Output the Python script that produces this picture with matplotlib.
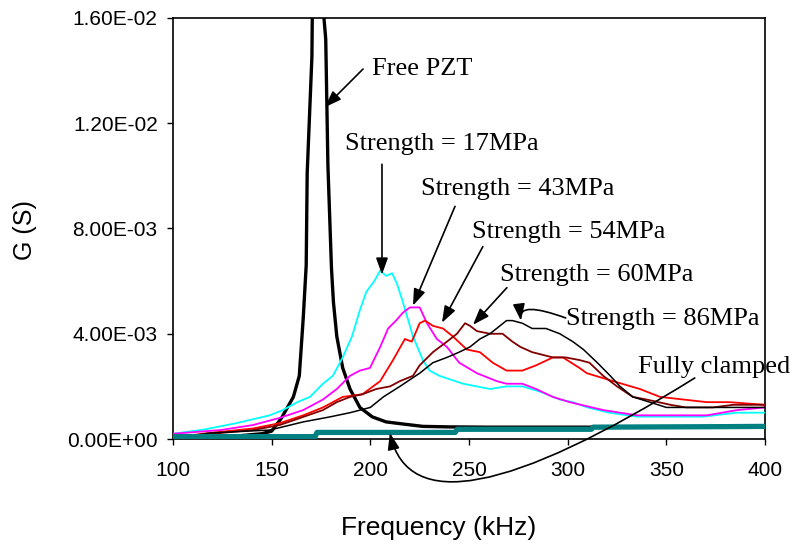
import matplotlib
matplotlib.use("Agg")
import matplotlib.pyplot as plt
from matplotlib.ticker import FuncFormatter

# === DATA (frequency in kHz, conductance G in S) ===
free_f = [100, 130, 145, 150, 155, 161, 164, 166, 167.5, 168, 170.4, 173.5,
          176.5, 177.4, 178.5, 180.3, 181.3, 183, 186, 189.7, 194.7, 201,
          208, 216.5, 226.6, 240, 260, 300, 350, 400]
free_G = [0.00005, 0.0001, 0.0002, 0.0003, 0.0008, 0.0016, 0.0024, 0.0046, 0.0066,
          0.0101, 0.01455, 0.04, 0.016, 0.0152, 0.0104, 0.0065,
          0.0052, 0.0039, 0.0027, 0.0019, 0.0012, 0.00084, 0.00065, 0.00057,
          0.00048, 0.00046, 0.00045, 0.00045, 0.00045, 0.00045]

s17_f = [100, 115, 132, 149, 155.7, 163, 169.4, 176, 181, 186, 190.7, 194.7, 198,
         202, 205, 208, 211, 213.5, 216.5, 221.6, 226.6, 230, 235, 247, 260.6, 269,
         277, 286, 296, 302.6, 310, 321, 335, 350, 368.5, 385.7, 400]
s17_G = [0.0002, 0.00035, 0.0006, 0.0009, 0.0011, 0.0014, 0.0016, 0.0021, 0.0024,
         0.0031, 0.0039, 0.0049, 0.0056, 0.0060, 0.0064, 0.0062, 0.0063, 0.0059,
         0.0052, 0.0039, 0.0030, 0.0026, 0.0024, 0.0021, 0.0019, 0.0020, 0.0020,
         0.0018, 0.0015, 0.0014, 0.0012, 0.0010, 0.00085, 0.00085, 0.00085, 0.0010,
         0.0010]

s43_f = [100, 124, 140.5, 154, 166, 176, 183, 189.7, 194.7, 199.8, 205, 209, 213,
         216.5, 220, 225, 228.7, 233.7, 238.8, 245, 254, 264, 269, 277, 284, 292.5,
         301, 318, 335, 370.5, 386, 400]
s43_G = [0.0002, 0.00034, 0.00053, 0.0008, 0.0011, 0.0015, 0.0019, 0.0024, 0.0026,
         0.0027, 0.0035, 0.0042, 0.0045, 0.0048, 0.0050, 0.0050, 0.0044, 0.0038,
         0.0035, 0.0029, 0.0025, 0.0022, 0.0021, 0.0021, 0.0019, 0.0016, 0.0014,
         0.0011, 0.0009, 0.0009, 0.0011, 0.0012]

s54_f = [100, 115, 140.5, 154, 166, 176, 186, 196, 205, 211.5, 217.5, 221, 225,
         227.7, 231.7, 236.8, 241.8, 248.9, 255.5, 262, 269, 277, 284, 292.5, 297.6,
         306, 309.7, 323, 336.6, 346.8, 370.5, 382, 400]
s54_G = [0.00005, 0.0002, 0.0004, 0.0006, 0.0009, 0.0012, 0.0016, 0.0017, 0.0022,
         0.0030, 0.0038, 0.0037, 0.0044, 0.0045, 0.0043, 0.0042, 0.0039, 0.0034,
         0.0033, 0.0029, 0.0026, 0.0026, 0.0028, 0.0031, 0.0031, 0.0027, 0.0025,
         0.0022, 0.0019, 0.0016, 0.0014, 0.0014, 0.0013]

s60_f = [100, 120, 140.5, 154, 166, 176, 183, 189.7, 196, 203, 210, 215, 221.6, 225,
         231.7, 238.8, 243.9, 248, 250.5, 254, 260.6, 267, 272, 276, 282, 292.5,
         299, 306, 311, 318, 325, 333, 340, 352, 360, 373.6, 384, 400]
s60_G = [0.00003, 0.0002, 0.00034, 0.00053, 0.00084, 0.0011, 0.0014, 0.0016, 0.0017,
         0.0019, 0.0020, 0.0022, 0.0024, 0.0028, 0.0033, 0.0037, 0.0040, 0.0044,
         0.0043, 0.0041, 0.0040, 0.0040, 0.0037, 0.0035, 0.0033, 0.0031, 0.0031,
         0.0030, 0.0029, 0.0024, 0.0020, 0.0016, 0.0015, 0.0013, 0.0012, 0.0012,
         0.0013, 0.0013]

s86_f = [100, 119, 149, 166, 179.5, 189.7, 200, 206.6, 215, 225, 231.7, 238.8, 245,
         250.5, 255.5, 260.6, 264, 269, 272, 277, 282, 289, 296, 302.6, 308, 315,
         321.6, 326.5, 333, 341.6, 350, 360, 377, 400]
s86_G = [0.00003, 0.00023, 0.00034, 0.00065, 0.00084, 0.0010, 0.0012, 0.0016, 0.0020,
         0.0025, 0.0029, 0.0031, 0.0033, 0.0035, 0.0038, 0.0040, 0.0042, 0.0045,
         0.0045, 0.0044, 0.0042, 0.0042, 0.0040, 0.0037, 0.0034, 0.0029, 0.0024,
         0.0020, 0.0016, 0.0014, 0.0012, 0.0012, 0.0012, 0.0012]

clamp_f = [100, 172, 173, 243, 244, 312, 313, 380, 400]
clamp_G = [0.00009, 0.00009, 0.00025, 0.00025, 0.00037, 0.00037, 0.00045, 0.00047, 0.00048]

labels = ["Free PZT", "Strength = 17MPa", "Strength = 43MPa", "Strength = 54MPa",
          "Strength = 60MPa", "Strength = 86MPa", "Fully clamped"]

# === FIGURE ===
fig = plt.figure(figsize=(7.95, 5.48), dpi=100)
ax = fig.add_axes([0.2176, 0.1989, 0.7447, 0.7683])

ax.plot(free_f, free_G, color="black", lw=2.4, zorder=2)
ax.plot(s17_f, s17_G, color="#00FFFF", lw=1.3, zorder=3)
ax.plot(s43_f, s43_G, color="#FF00FF", lw=1.3, zorder=3)
ax.plot(s54_f, s54_G, color="#FF0000", lw=1.3, zorder=3)
ax.plot(s60_f, s60_G, color="#800000", lw=1.3, zorder=3)
ax.plot(s86_f, s86_G, color="black", lw=1.1, zorder=3)
ax.plot(clamp_f, clamp_G, color="#008080", lw=3.8, zorder=4, solid_capstyle="butt")

ax.set_xlim(100, 400)
ax.set_ylim(0, 0.016)
ax.set_xticks([100, 150, 200, 250, 300, 350, 400])
ax.set_yticks([0, 0.004, 0.008, 0.012, 0.016])
ax.yaxis.set_major_formatter(FuncFormatter(lambda v, p: "{:.2E}".format(v)))
ax.tick_params(direction="out", length=4, width=1, labelsize=15)
ax.tick_params(axis="x", pad=12)
ax.tick_params(axis="y", pad=7)
for lab in ax.get_xticklabels() + ax.get_yticklabels():
    lab.set_fontfamily("Liberation Sans")
for s in ax.spines.values():
    s.set_linewidth(1.2)

fig.text(0.552, 0.0365, "Frequency (kHz)", fontsize=19, family="Liberation Sans",
         ha="center", va="center")
fig.text(0.0314, 0.580, "G (S)", fontsize=18, family="Liberation Sans",
         ha="center", va="center", rotation=90)

# === ANNOTATIONS ===
txt_pos = [(200.8, 0.01406), (187.1, 0.0112), (225.6, 0.00949), (251.5, 0.00785),
           (265.7, 0.00625), (299.1, 0.00455), (335.6, 0.00274)]
arrows = [((196.3, 0.01406), (177.0, 0.01261), "arc3"),
          ((205.9, 0.01044), (205.9, 0.00625), "arc3"),
          ((242.9, 0.00884), (221.6, 0.00507), "arc3"),
          ((257.0, 0.00731), (236.3, 0.00442), "arc3"),
          ((269.2, 0.00575), (252.0, 0.00434), "arc3"),
          ((299.0, 0.00460), (276.3, 0.00450), "angle3,angleA=-20,angleB=97"),
          ((364.4, 0.00232), (209.9, 0.00023), "angle3,angleA=32,angleB=103")]

for lab, (tx, ty) in zip(labels, txt_pos):
    ax.text(tx, ty, lab, fontsize=19, family="Liberation Serif",
            ha="left", va="center", zorder=6, clip_on=False)

for start, tip, cs in arrows:
    ax.annotate("", xy=tip, xytext=start, annotation_clip=False,
                arrowprops=dict(arrowstyle="-|>,head_length=1.0,head_width=0.36",
                                mutation_scale=10, color="black", lw=1.2,
                                shrinkA=0, shrinkB=0, connectionstyle=cs),
                zorder=5)

fig.savefig("out.png", dpi=100)
